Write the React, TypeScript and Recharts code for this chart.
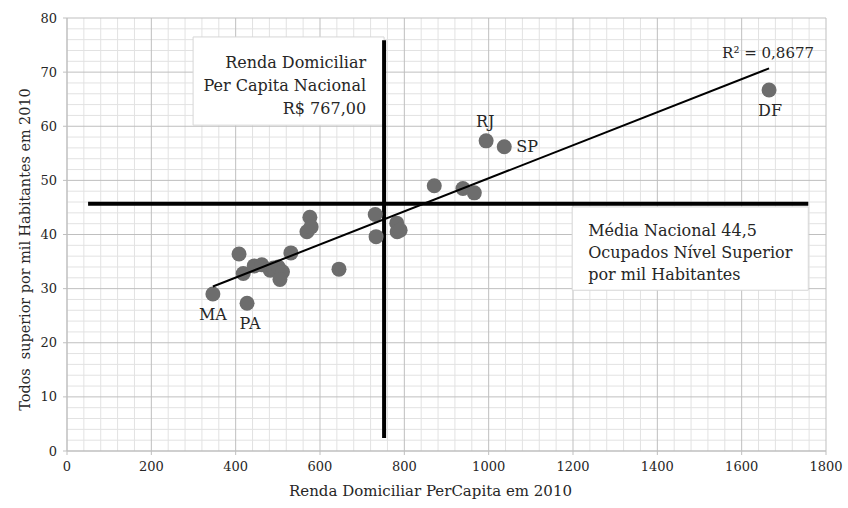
import {
  ScatterChart,
  Scatter,
  XAxis,
  YAxis,
  CartesianGrid,
  ReferenceLine,
  ReferenceArea,
  Label,
} from "recharts";

// renda domiciliar per capita (R$) x ocupados nível superior por mil habitantes, por UF
const renda = [346, 427, 408, 418, 444, 462, 482, 490, 501, 511, 505, 531, 569, 576, 579, 645, 731, 733, 782, 783, 790, 871, 939, 966, 994, 1037, 1665];
const ocupados = [29.0, 27.3, 36.4, 32.8, 34.2, 34.4, 33.4, 33.8, 34.0, 33.1, 31.7, 36.6, 40.5, 43.2, 41.4, 33.6, 43.7, 39.6, 42.1, 40.5, 40.8, 49.0, 48.5, 47.7, 57.3, 56.2, 66.7];
const uf = ["MA", "PA", "", "", "", "", "", "", "", "", "", "", "", "", "", "", "", "", "", "", "", "", "", "", "RJ", "SP", "DF"];

// linha de tendência (extremos)
const trendX = [346, 1665];
const trendY = [30.4, 70.7];
const r2Label = "R² = 0,8677";

const xTicks = [0, 200, 400, 600, 800, 1000, 1200, 1400, 1600, 1800];
const yTicks = [0, 10, 20, 30, 40, 50, 60, 70, 80];
const xMax = 1800;
const yMax = 80;

// linhas de referência (posição desenhada)
const rendaNacional = 752;
const rendaSpan = [2.4, 75.9];
const mediaNacional = 45.7;
const mediaSpan = [50, 1758];

const boxRenda = { x: [299, 752], y: [60.2, 76.5] };
const boxMedia = { x: [1198, 1758], y: [29.7, 45.1] };
const textRenda = ["Renda Domiciliar", "Per Capita Nacional", "R$ 767,00"];
const textMedia = ["Média Nacional 44,5", "Ocupados Nível Superior", "por mil Habitantes"];

const points = renda.map((x, i) => ({ x, y: ocupados[i], uf: uf[i] }));
const trend = trendX.map((x, i) => ({ x, y: trendY[i] }));

const minorX = Array.from({ length: 45 }, (_, i) => i * 40).filter((v) => v % 200 !== 0);
const minorY = Array.from({ length: 40 }, (_, i) => i * 2).filter((v) => v % 10 !== 0);

const labelPos: Record<string, { dx: number; dy: number; anchor: string }> = {
  MA: { dx: 0, dy: 26, anchor: "middle" },
  PA: { dx: 3, dy: 26, anchor: "middle" },
  RJ: { dx: -1, dy: -14, anchor: "middle" },
  SP: { dx: 12, dy: 5, anchor: "start" },
  DF: { dx: 1, dy: 26, anchor: "middle" },
};

const TEXT = "#262626";
const FONT = '"DejaVu Serif", serif';

const minorXCoords = (p: any) => {
  const s = p.xAxis && p.xAxis.scale;
  if (typeof s === "function") return minorX.map((v) => s(v));
  return minorX.map((v) => p.offset.left + (p.offset.width * v) / xMax);
};
const minorYCoords = (p: any) => {
  const s = p.yAxis && p.yAxis.scale;
  if (typeof s === "function") return minorY.map((v) => s(v));
  return minorY.map((v) => p.offset.top + p.offset.height * (1 - v / yMax));
};

function Dot(props: any) {
  const { cx, cy, payload } = props;
  const pos = labelPos[payload.uf];
  return (
    <g>
      <circle cx={cx} cy={cy} r={7.5} fill="#6d6d6d" />
      {pos && (
        <text x={cx + pos.dx} y={cy + pos.dy} textAnchor={pos.anchor} fontSize={16} fill={TEXT}>
          {payload.uf}
        </text>
      )}
    </g>
  );
}

function TrendEnd(props: any) {
  const { cx, cy, index } = props;
  if (index !== trend.length - 1) return <g />;
  return (
    <text x={cx - 1} y={cy - 10} textAnchor="middle" fontSize={15} fill={TEXT}>
      {r2Label}
    </text>
  );
}

export default function App() {
  return (
    <div style={{ position: "absolute", left: 0, top: 0, width: 848, height: 508, background: "#fff", fontFamily: FONT }}>
      <ScatterChart width={848} height={508} margin={{ top: 18, right: 22, left: 27, bottom: 27 }}>
        <CartesianGrid
          stroke="#e2e2e2"
          verticalCoordinatesGenerator={minorXCoords}
          horizontalCoordinatesGenerator={minorYCoords}
        />
        <CartesianGrid stroke="#bfbfbf" />
        <XAxis
          type="number"
          dataKey="x"
          domain={[0, xMax]}
          ticks={xTicks}
          interval={0}
          tickSize={4}
          tickMargin={7}
          tick={{ fontSize: 13, fill: TEXT }}
          tickLine={{ stroke: "#bfbfbf" }}
          axisLine={{ stroke: "#bfbfbf" }}
          height={30}
        >
          <Label
            content={({ viewBox }: any) => (
              <text x={viewBox.x + viewBox.width / 2 - 16} y={viewBox.y + 45} textAnchor="middle" fontSize={15} fill={TEXT}>
                Renda Domiciliar PerCapita em 2010
              </text>
            )}
          />
        </XAxis>
        <YAxis
          type="number"
          dataKey="y"
          domain={[0, yMax]}
          ticks={yTicks}
          interval={0}
          tickSize={4}
          tickMargin={6}
          tick={{ fontSize: 13, fill: TEXT }}
          tickLine={{ stroke: "#bfbfbf" }}
          axisLine={{ stroke: "#bfbfbf" }}
          width={40}
        >
          <Label
            content={({ viewBox }: any) => {
              const x = viewBox.x + 3;
              const y = viewBox.y + viewBox.height / 2 + 15;
              return (
                <text
                  x={x}
                  y={y}
                  transform={`rotate(-90 ${x} ${y})`}
                  textAnchor="middle"
                  fontSize={14.4}
                  fill={TEXT}
                  style={{ whiteSpace: "pre" }}
                >
                  {"Todos  superior por mil Habitantes em 2010"}
                </text>
              );
            }}
          />
        </YAxis>
        <ReferenceArea
          x1={boxRenda.x[0]}
          x2={boxRenda.x[1]}
          y1={boxRenda.y[0]}
          y2={boxRenda.y[1]}
          fill="#fff"
          fillOpacity={1}
          stroke="#d6d6d6"
          label={({ viewBox }: any) => (
            <g>
              {textRenda.map((t, i) => (
                <text
                  key={t}
                  x={viewBox.x + viewBox.width - 18}
                  y={viewBox.y + 31 + i * 23}
                  textAnchor="end"
                  fontSize={16}
                  fill={TEXT}
                >
                  {t}
                </text>
              ))}
            </g>
          )}
        />
        <ReferenceArea
          x1={boxMedia.x[0]}
          x2={boxMedia.x[1]}
          y1={boxMedia.y[0]}
          y2={boxMedia.y[1]}
          fill="#fff"
          fillOpacity={1}
          stroke="#d6d6d6"
          label={({ viewBox }: any) => (
            <g>
              {textMedia.map((t, i) => (
                <text key={t} x={viewBox.x + 16} y={viewBox.y + 29 + i * 22} textAnchor="start" fontSize={16} fill={TEXT}>
                  {t}
                </text>
              ))}
            </g>
          )}
        />
        <Scatter data={points} shape={Dot} isAnimationActive={false} />
        <Scatter
          data={trend}
          line={{ stroke: "#000", strokeWidth: 2 }}
          shape={TrendEnd}
          isAnimationActive={false}
        />
        <ReferenceLine
          segment={[
            { x: rendaNacional, y: rendaSpan[0] },
            { x: rendaNacional, y: rendaSpan[1] },
          ]}
          stroke="#000"
          strokeWidth={4}
        />
        <ReferenceLine
          segment={[
            { x: mediaSpan[0], y: mediaNacional },
            { x: mediaSpan[1], y: mediaNacional },
          ]}
          stroke="#000"
          strokeWidth={4}
        />
      </ScatterChart>
    </div>
  );
}
